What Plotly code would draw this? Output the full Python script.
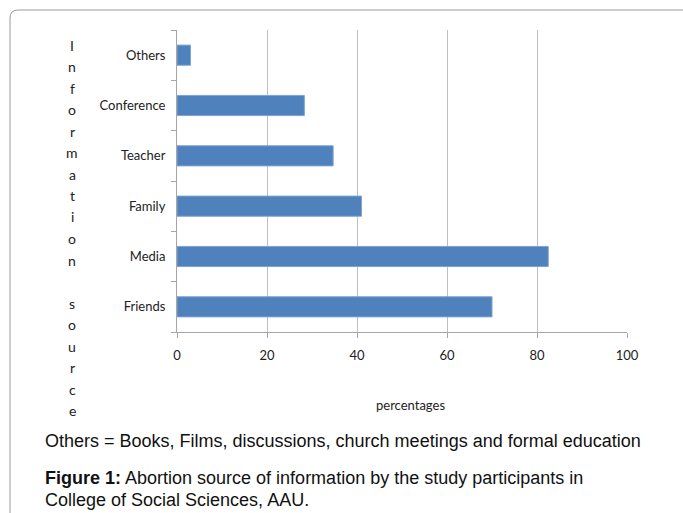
import plotly.graph_objects as go

categories = ["Friends", "Media", "Family", "Teacher", "Conference", "Others"]
values = [70, 82.5, 41, 34.7, 28.3, 3]
x_ticks = [0, 20, 40, 60, 80, 100]
y_title = "Information source"
x_title = "percentages"
note = "Others = Books, Films, discussions, church meetings and formal education"
caption1 = "<b>Figure 1:</b> Abortion source of information by the study participants in"
caption2 = "College of Social Sciences, AAU."

W, H = 683, 513
L, R, T, B = 177, 627, 30, 332
pw, ph = R - L, B - T

def px(x):
    return (x - L) / pw

def py(y):
    return (B - y) / ph

fig = go.Figure(go.Bar(
    y=categories, x=values, orientation="h",
    marker=dict(color="#4F81BD", line=dict(color="#7FA3D3", width=1)),
    width=0.4,
))

fnt = "Lato, 'Open Sans', sans-serif"
cap_font = dict(family="'Liberation Sans', Arial", size=18, color="#111")

fig.update_layout(
    width=W, height=H,
    margin=dict(l=L, r=W - R, t=T, b=H - B),
    paper_bgcolor="white", plot_bgcolor="white",
    showlegend=False,
    font=dict(family=fnt, size=12, color="#222"),
    xaxis=dict(range=[0, 100], tickvals=x_ticks, showgrid=True, gridcolor="#BFBFBF",
               gridwidth=1, zeroline=False, showline=True, linecolor="#A6A6A6",
               ticks="outside", ticklen=5, tickcolor="#A6A6A6", ticklabelstandoff=6,
               tickfont=dict(family=fnt, size=13, color="#222"), fixedrange=True),
    yaxis=dict(categoryorder="array", categoryarray=categories, showgrid=False,
               showline=True, linecolor="#A6A6A6", ticks="outside", ticklen=5,
               tickcolor="#A6A6A6", tickson="boundaries", range=[-0.5, 5.5],
               tickfont=dict(family=fnt, size=13, color="#222"), ticklabelstandoff=8),
)

annotations = []
# vertical stacked-letter y title
y0, step = 45, 21.5
for i, ch in enumerate(y_title):
    if ch == " ":
        continue
    annotations.append(dict(x=px(72), y=py(y0 + i * step), xref="paper", yref="paper",
                            text=ch, showarrow=False, xanchor="center", yanchor="middle",
                            font=dict(family=fnt, size=14, color="#222")))
annotations.append(dict(x=px(410), y=py(405), xref="paper", yref="paper", text=x_title,
                        showarrow=False, xanchor="center", yanchor="middle",
                        font=dict(family=fnt, size=13, color="#222")))
annotations.append(dict(x=px(43), y=py(441), xref="paper", yref="paper", text=note,
                        showarrow=False, xanchor="left", yanchor="middle", font=cap_font))
annotations.append(dict(x=px(43), y=py(478), xref="paper", yref="paper", text=caption1,
                        showarrow=False, xanchor="left", yanchor="middle", font=cap_font))
annotations.append(dict(x=px(43), y=py(500), xref="paper", yref="paper", text=caption2,
                        showarrow=False, xanchor="left", yanchor="middle", font=cap_font))
fig.update_layout(annotations=annotations)

# rounded outer border
r = 8
x1, y1 = 10, 10
path = (f"M {px(x1)},{py(H + 20)} L {px(x1)},{py(y1 + r)} "
        f"Q {px(x1)},{py(y1)} {px(x1 + r)},{py(y1)} L {px(W + 20)},{py(y1)}")
fig.add_shape(type="path", path=path, xref="paper", yref="paper",
              line=dict(color="#9A9A9A", width=1), layer="below")

fig.write_html("out.html")
